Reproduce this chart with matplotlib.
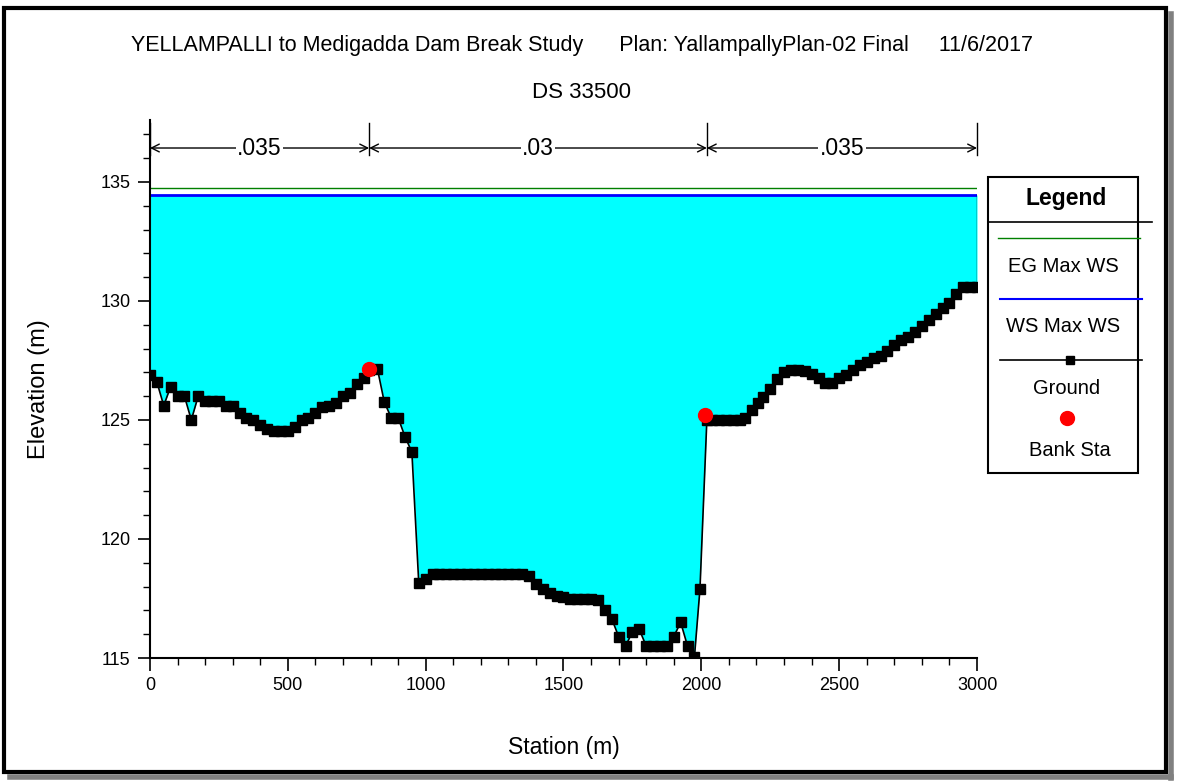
import matplotlib
matplotlib.use("Agg")
import matplotlib.pyplot as plt
from matplotlib.lines import Line2D
from matplotlib.patches import Rectangle
from matplotlib.ticker import MultipleLocator

plt.rcParams['font.family'] = ['Liberation Sans', 'DejaVu Sans']

# Cross section DS 33500 - ground profile (station m, elevation m)
station = [0, 25, 50, 75, 100, 125, 150, 175, 200, 225, 250, 275, 300, 325, 350,
           375, 400, 425, 450, 475, 500, 525, 550, 575, 600, 625, 650, 675, 700,
           725, 750, 775, 795, 825, 850, 875, 900, 925, 950, 975, 1000, 1025,
           1050, 1075, 1100, 1125, 1150, 1175, 1200, 1225, 1250, 1275, 1300, 1325,
           1350, 1375, 1400, 1425, 1450, 1475, 1500, 1525, 1550, 1575, 1600, 1625,
           1650, 1675, 1700, 1725, 1750, 1775, 1800, 1825, 1850, 1875, 1900, 1925,
           1950, 1975, 1995, 2020, 2040, 2065, 2090, 2115, 2140, 2160, 2185, 2205,
           2225, 2250, 2275, 2300, 2325, 2350, 2375, 2400, 2425, 2450, 2475, 2500,
           2525, 2550, 2575, 2600, 2625, 2650, 2675, 2700, 2725, 2750, 2775, 2800,
           2825, 2850, 2875, 2900, 2925, 2950, 2975, 3000]
ground = [126.9, 126.6, 125.6, 126.4, 126.0, 126.0, 125.0, 126.0, 125.8, 125.8, 125.8,
          125.6, 125.6, 125.3, 125.1, 125.0, 124.8, 124.6, 124.55, 124.55, 124.55,
          124.7, 125.0, 125.1, 125.3, 125.55, 125.6, 125.7, 126.0, 126.15, 126.5,
          126.75, 127.1, 127.15, 125.75, 125.1, 125.1, 124.3, 123.65, 118.15, 118.3,
          118.55, 118.55, 118.55, 118.55, 118.55, 118.55, 118.55, 118.55, 118.55,
          118.55, 118.55, 118.55, 118.55, 118.55, 118.45, 118.1, 117.9, 117.75,
          117.6, 117.55, 117.5, 117.5, 117.5, 117.5, 117.45, 117.0, 116.65, 115.9,
          115.5, 116.1, 116.2, 115.5, 115.5, 115.5, 115.5, 115.9, 116.5, 115.5,
          115.05, 117.9, 125.0, 125.0, 125.0, 125.0, 125.0, 125.0, 125.1, 125.4,
          125.7, 125.95, 126.3, 126.7, 127.0, 127.1, 127.1, 127.05, 126.95, 126.75,
          126.55, 126.55, 126.75, 126.9, 127.1, 127.3, 127.45, 127.6, 127.7, 127.9,
          128.15, 128.35, 128.5, 128.7, 128.95, 129.2, 129.45, 129.7, 129.9, 130.3,
          130.6, 130.6, 130.6]

bank_sta = [795, 2015]
bank_elev = [127.15, 125.2]
ws_max = 134.45
eg_max = 134.75

n_sta = [0, 795, 2020, 3000]
n_vals = ['.035', '.03', '.035']

title = "YELLAMPALLI to Medigadda Dam Break Study      Plan: YallampallyPlan-02 Final     11/6/2017"
subtitle = "DS 33500"

fig = plt.figure(figsize=(11.78, 7.84), dpi=100)
ax = fig.add_axes([0.1273, 0.1607, 0.7021, 0.6862])

# water fill + lines
ax.fill_between(station, ground, ws_max, where=[g < ws_max for g in ground],
                color='#00FFFF', lw=0, interpolate=True)
ax.plot([station[0], station[-1]], [eg_max, eg_max], color='#008000', lw=1)
ax.plot([station[0], station[-1]], [ws_max, ws_max], color='#0000FF', lw=2)
ax.plot([station[-1], station[-1]], [ground[-1], ws_max], color='black', lw=1)
ax.plot(station, ground, color='black', lw=1.2, marker='s', ms=7, zorder=3)
ax.plot(bank_sta, bank_elev, 'o', color='red', ms=10, zorder=4)

# manning's n markers along the top
xt = ax.get_xaxis_transform()
for s in n_sta:
    ax.plot([s, s], [0.935, 0.995], color='black', lw=1, transform=xt, clip_on=False)
for i, nv in enumerate(n_vals):
    a, b = n_sta[i], n_sta[i + 1]
    ax.annotate('', xy=(a, 0.948), xytext=(b, 0.948), xycoords=xt, textcoords=xt,
                arrowprops=dict(arrowstyle='<->', color='black', lw=1,
                                mutation_scale=14, shrinkA=0, shrinkB=0))
    ax.text((a + b) / 2, 0.948, nv, transform=xt, ha='center', va='center',
            fontsize=16.5, bbox=dict(facecolor='white', edgecolor='none', pad=1))

ax.set_xlim(0, 3000)
ax.set_ylim(115, 137.6)
ax.set_xticks([0, 500, 1000, 1500, 2000, 2500, 3000])
ax.set_yticks([115, 120, 125, 130, 135])
ax.xaxis.set_minor_locator(MultipleLocator(100))
ax.yaxis.set_minor_locator(MultipleLocator(1))
ax.tick_params(which='major', direction='out', length=9, width=1.2, labelsize=13, pad=5)
ax.tick_params(which='minor', direction='out', length=5, width=1)
for side in ['top', 'right']:
    ax.spines[side].set_visible(False)
for side in ['left', 'bottom']:
    ax.spines[side].set_linewidth(1.5)

ax.set_xlabel("Station (m)", fontsize=16.5)
ax.set_ylabel("Elevation (m)", fontsize=17)
ax.xaxis.set_label_coords(0.5, -0.145)
ax.yaxis.set_label_coords(-0.121, 0.5)

fig.text(0.494, 1 - 45 / 784, title, ha='center', va='center', fontsize=15.5)
fig.text(0.494, 1 - 93 / 784, subtitle, ha='center', va='center', fontsize=16)

# legend box drawn by hand
def fy(py):
    return 1 - py / 784

def fx(px):
    return px / 1178

fig.add_artist(Rectangle((fx(988), fy(473)), fx(1138) - fx(988), fy(177) - fy(473),
                         transform=fig.transFigure, facecolor='white', edgecolor='black', lw=1.5))
fig.add_artist(Line2D([fx(988), fx(1152)], [fy(222), fy(222)], transform=fig.transFigure,
                      color='black', lw=1.2))
fig.text(fx(1066), fy(198), "Legend", ha='center', va='center', fontsize=16.5, fontweight='bold')
fig.add_artist(Line2D([fx(998), fx(1140)], [fy(238), fy(238)], transform=fig.transFigure,
                      color='#008000', lw=1))
fig.text(fx(1063), fy(267), "EG Max WS", ha='center', va='center', fontsize=14.5)
fig.add_artist(Line2D([fx(1000), fx(1142)], [fy(299), fy(299)], transform=fig.transFigure,
                      color='#0000FF', lw=1.5))
fig.text(fx(1063), fy(327), "WS Max WS", ha='center', va='center', fontsize=14.5)
fig.add_artist(Line2D([fx(1000), fx(1142)], [fy(360), fy(360)], transform=fig.transFigure,
                      color='black', lw=1.2))
fig.add_artist(Line2D([fx(1070)], [fy(360)], transform=fig.transFigure, marker='s',
                      color='black', ms=6, lw=0))
fig.text(fx(1067), fy(388), "Ground", ha='center', va='center', fontsize=14.5)
fig.add_artist(Line2D([fx(1067)], [fy(418)], transform=fig.transFigure, marker='o',
                      color='red', ms=10, lw=0))
fig.text(fx(1070), fy(450), "Bank Sta", ha='center', va='center', fontsize=14.5)

# outer frame with shadow
fig.add_artist(Rectangle((fx(4), fy(772)), fx(1166) - fx(4), fy(8) - fy(772),
                         transform=fig.transFigure, facecolor='none', edgecolor='black', lw=3))
fig.add_artist(Line2D([fx(1171), fx(1171)], [fy(14), fy(778)], transform=fig.transFigure,
                      color='#808080', lw=4))
fig.add_artist(Line2D([fx(10), fx(1171)], [fy(777), fy(777)], transform=fig.transFigure,
                      color='#808080', lw=4))

fig.savefig("out.png", dpi=100)
